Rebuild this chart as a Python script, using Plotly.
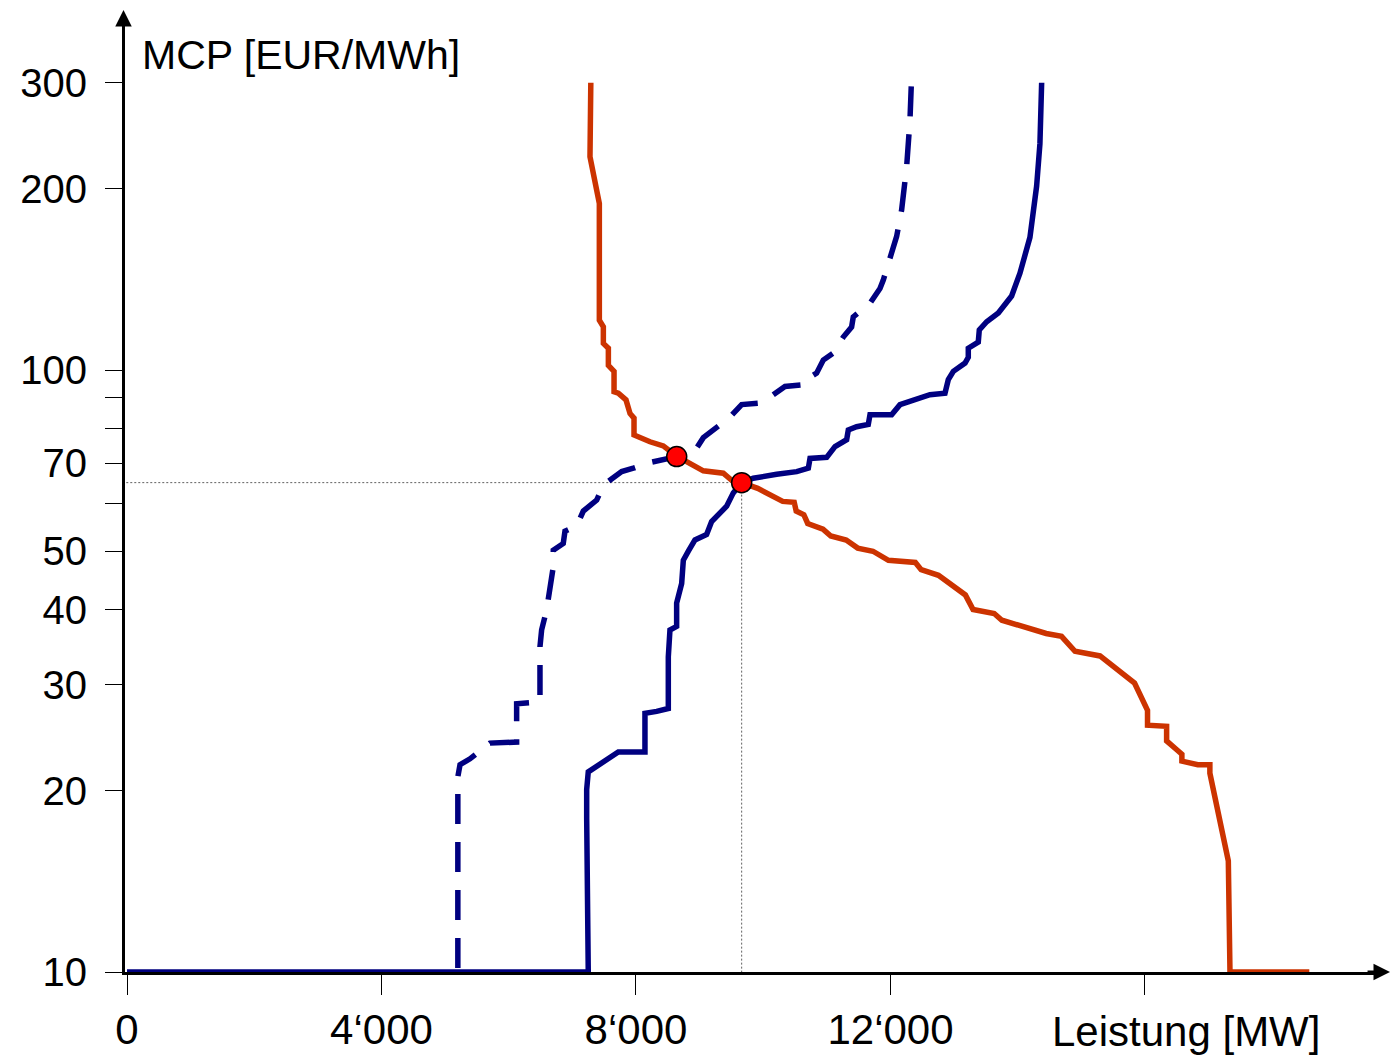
import plotly.graph_objects as go

# ---------------- data ----------------
# Demand curve (orange): quantity [MW], price [EUR/MWh]
demand_mw = [7290, 7277, 7424, 7424, 7487, 7487, 7566, 7566, 7655, 7655, 7722, 7843,
             7906, 7969, 7969, 8220, 8429, 8640, 9058, 9372, 9504, 9661, 9913, 10094,
             10306, 10487, 10518, 10638, 10699, 10939, 11062, 11304, 11485, 11725,
             11968, 12391, 12482, 12754, 13177, 13298, 13630, 13751, 14205, 14447,
             14688, 14900, 15293, 15836, 16040, 16040, 16340, 16340, 16500, 16580,
             16580, 16830, 17020, 17020, 17310, 17336, 18583]
demand_price = [300, 226, 189, 121, 118, 110.7, 108.7, 101.8, 99.5, 92, 91.5, 89.2,
                84.7, 83.2, 78, 76, 74.8, 71.9, 68, 67.4, 65.6, 65.0, 63.6, 62.0,
                60.5, 60.3, 58.3, 57.5, 55.6, 54.4, 53.0, 52.2, 50.6, 50.0,
                48.3, 47.9, 46.6, 45.6, 42.3, 40.0, 39.4, 38.4, 37.1, 36.5,
                36.1, 34.1, 33.5, 30.2, 27.2, 25.7, 25.6, 24.2, 23.4, 23.0,
                22.4, 22.1, 22.1, 21.4, 15.3, 10, 10]

# Supply curve (navy, solid)
supply_mw = [0, 7250, 7225, 7225, 7250, 7487, 7722, 8141, 8141, 8325, 8508, 8508,
             8534, 8639, 8639, 8718, 8744, 8823, 8927, 9110, 9189, 9425, 9529, 9661,
             9843, 10211, 10526, 10709, 10735, 10997, 11128, 11311, 11337, 11468,
             11651, 11678, 12018, 12149, 12385, 12620, 12857, 12909, 12988, 13172,
             13223, 13223, 13380, 13396, 13512, 13695, 13904, 14035, 14192, 14297,
             14349, 14376]
supply_price = [10, 10, 18.0, 20.1, 21.5, 22.4, 23.2, 23.2, 26.9, 27.1, 27.4, 33.4,
                37.0, 37.5, 41.0, 44.2, 48.3, 50.0, 52.2, 53.3, 56.0, 59.4, 62.5, 65.0,
                66.1, 67.1, 67.8, 68.7, 71.3, 71.6, 74.6, 76.6, 79.5, 80.5,
                81.2, 84.3, 84.3, 87.6, 89.3, 91.0, 91.5, 96.4, 99.5, 102.7,
                105, 108.7, 111.3, 116.6, 120.3, 124.4, 132.7, 144.8, 166.1, 202,
                237.7, 300]

# Shifted supply curve (navy, dashed)
supply2_mw = [5200, 5200, 5234, 5391, 5705, 6124, 6124, 6491, 6491, 6517, 6596, 6648,
              6700, 6700, 6857, 6884, 7068, 7172, 7382, 7487, 7644, 7775, 7958, 8220,
              8640, 8954, 9058, 9215, 9346, 9477, 9661, 9975, 10053, 10342, 10630,
              10630, 10839, 10944, 11101, 11258, 11389, 11415, 11678, 11835, 11887,
              11992, 12097, 12175, 12254, 12306, 12333]
supply2_price = [10.15, 21.1, 22.1, 22.6, 24.0, 24.1, 27.9, 28.1, 34.7, 37.0, 40.0, 43.0,
                 47.1, 50.2, 51.5, 54.0, 55.1, 58.3, 60.8, 64.4, 66.4, 67.8, 68.7, 70.2,
                 71.8, 74.2, 77.2, 79.5, 81.4, 83.5, 87.6, 88.2, 89.3, 93.9, 94.5,
                 95.7, 98.8, 103.9, 106.7, 113.4, 117.9, 122.5, 129.1, 136.6, 141.1,
                 152.7, 166.7, 184.4, 217.6, 259.8, 309]

# Market clearing points
eq_mw = [8640, 9661]
eq_price = [71.8, 65.0]

# Axis ticks
y_tickvals = [10, 20, 30, 40, 50, 60, 70, 80, 90, 100, 200, 300]
y_ticktext = ["10", "20", "30", "40", "50", "", "70", "", "", "100", "200", "300"]
x_tickvals = [0, 4000, 8000, 12000, 16000]
x_ticktext = ["0", "4\u2018000", "8\u2018000", "12\u2018000", ""]

NAVY = "#000080"
ORANGE = "#CC3300"
FONT = "Liberation Sans, Arial, sans-serif"

fig = go.Figure()

# dotted guide lines through the final clearing point
fig.add_trace(go.Scatter(x=[-200, eq_mw[1]], y=[eq_price[1], eq_price[1]], mode="lines",
                         line=dict(color="#606060", width=1, dash="2px,2px"),
                         hoverinfo="skip"))
fig.add_trace(go.Scatter(x=[eq_mw[1], eq_mw[1]], y=[eq_price[1], 9.5], mode="lines",
                         line=dict(color="#606060", width=1, dash="2px,2px"),
                         hoverinfo="skip"))

fig.add_trace(go.Scatter(x=demand_mw, y=demand_price, mode="lines",
                         line=dict(color=ORANGE, width=5.5)))
fig.add_trace(go.Scatter(x=supply2_mw, y=supply2_price, mode="lines",
                         line=dict(color=NAVY, width=5.5, dash="30px,18px")))
fig.add_trace(go.Scatter(x=supply_mw, y=supply_price, mode="lines",
                         line=dict(color=NAVY, width=5.5)))
fig.add_trace(go.Scatter(x=eq_mw, y=eq_price, mode="markers",
                         marker=dict(size=20, color="#FF0000",
                                     line=dict(color="black", width=1.5))))

fig.update_layout(
    width=1391, height=1056,
    margin=dict(l=125, r=11, t=35, b=84),
    template="none",
    plot_bgcolor="white", paper_bgcolor="white",
    showlegend=False,
    font=dict(family=FONT, color="black"),
    xaxis=dict(range=[-31.4, 19694], showline=True, linecolor="black", linewidth=3,
               ticks="outside", ticklen=20, tickwidth=1, tickcolor="black",
               tickvals=x_tickvals, ticktext=x_ticktext,
               tickfont=dict(size=42, family=FONT, color="black"),
               ticklabelstandoff=-1,
               showgrid=False, zeroline=False, automargin=False, layer="below traces"),
    yaxis=dict(type="log", range=[1, 2.5565], showline=True, linecolor="black", linewidth=3,
               ticks="outside", ticklen=17, tickwidth=1, tickcolor="black",
               tickvals=y_tickvals, ticktext=y_ticktext,
               tickfont=dict(size=40, family=FONT, color="black"),
               ticklabelstandoff=10,
               showgrid=False, zeroline=False, automargin=False, layer="below traces"),
    annotations=[
        dict(text="MCP [EUR/MWh]", xref="paper", yref="paper", x=0.012, y=0.979,
             xanchor="left", yanchor="middle", showarrow=False,
             font=dict(size=41, family=FONT, color="black")),
        dict(text="Leistung [MW]", xref="paper", yref="paper", x=0.8454, y=-0.064,
             xanchor="center", yanchor="middle", showarrow=False,
             font=dict(size=42, family=FONT, color="black")),
        # axis arrow heads
        dict(text="", xref="paper", yref="paper", x=1.0088, y=0, ax=-25, ay=0,
             showarrow=True, arrowhead=2, arrowsize=1.1, arrowwidth=3, arrowcolor="black"),
        dict(text="", xref="paper", yref="paper", x=-0.0012, y=1.0267, ax=0, ay=30,
             showarrow=True, arrowhead=2, arrowsize=1.1, arrowwidth=3, arrowcolor="black"),
    ],
)

fig.write_html("out.html", config={"displayModeBar": False},
               post_script="document.body.style.margin='0';document.body.style.overflow='hidden';")
